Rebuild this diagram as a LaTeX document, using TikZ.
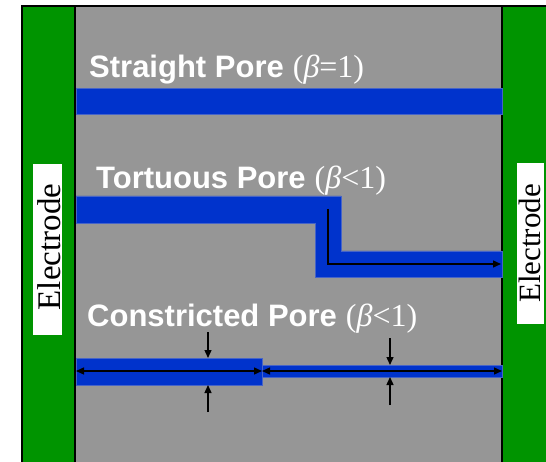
\documentclass[tikz,border=0pt]{standalone}
\usepackage{fontspec}
\setmainfont{Liberation Serif}
\newfontfamily\labelsans{Liberation Sans}
\usetikzlibrary{arrows.meta}
\definecolor{porebg}{RGB}{150,150,150}
\definecolor{elgreen}{RGB}{0,148,0}
\definecolor{poreblue}{RGB}{0,51,204}
\definecolor{poreedge}{RGB}{70,100,200}
\newcommand{\poretitle}[2]{{\fontsize{31}{31}\selectfont\labelsans\bfseries #1}\hspace{9pt}{\fontsize{32}{32}\selectfont #2}}
\begin{document}
\begin{tikzpicture}[x=1pt,y=-1pt,
  pore/.style={fill=poreblue, draw=poreedge, line width=0.6pt},
  frameline/.style={draw=black, line width=2pt},
  tip/.style={line width=1.4pt, -{Triangle[length=8pt,width=7pt]}},
  twotip/.style={line width=1.4pt, {Triangle[length=8pt,width=7pt]}-{Triangle[length=8pt,width=7pt]}},
  title/.style={anchor=base west, text=white, inner sep=0pt},
  eltext/.style={anchor=base, rotate=90, inner sep=0pt, text=black},
  elbox/.style={fill=white}]
\useasboundingbox (0,0) rectangle (546,462);
\fill[white] (0,0) rectangle (546,462);

% electrodes and the porous body between them
\fill[elgreen] (22,6) rectangle (546,462);
\fill[porebg] (75,6) rectangle (502,462);
\draw[frameline] (22,462) -- (22,6) -- (546,6);
\draw[black, line width=1.5pt] (75,6) -- (75,462);
\draw[frameline] (502,6) -- (502,462);

% electrode labels
\fill[elbox] (33,164) rectangle (62,335);
\node[eltext, font=\fontsize{33}{33}\selectfont] (elLeft) at (60,247) {Electrode};
\fill[elbox] (517,163) rectangle (544,324);
\node[eltext, font=\fontsize{31}{31}\selectfont] (elRight) at (540,243.5) {Electrode};

% straight pore
\node[title] (tStraight) at (89,78) {\poretitle{Straight Pore}{(\textit{β}=1)}};
\path[pore] (76,88) rectangle (502,114);

% tortuous pore
\node[title] (tTortuous) at (96,189) {\poretitle{Tortuous Pore}{(\textit{β}<1)}};
\path[pore] (76,196) -- (341,196) -- (341,251) -- (502,251) -- (502,277)
  -- (315,277) -- (315,223) -- (76,223) -- cycle;
\coordinate (tStart) at (328,209);
\coordinate (tEnd) at (501,264);
\draw[tip] (tStart) |- (tEnd);

% constricted pore
\node[title] (tConstricted) at (87,326) {\poretitle{Constricted Pore}{(\textit{β}<1)}};
\path[pore] (76,358) rectangle (262,385);
\path[pore] (262,365) rectangle (502,377);
\coordinate (cLeft) at (76,371);
\coordinate (cMid) at (262,371);
\coordinate (cRight) at (502,371);
\draw[twotip] (cLeft) -- (cMid);
\draw[twotip] (cMid) -- (cRight);

% width markers
\coordinate (wA1) at (208,332); \coordinate (wA2) at (208,358);
\coordinate (wA3) at (208,412); \coordinate (wA4) at (208,385);
\coordinate (wB1) at (390,338); \coordinate (wB2) at (390,365);
\coordinate (wB3) at (390,405); \coordinate (wB4) at (390,377);
\draw[tip] (wA1) -- (wA2);
\draw[tip] (wA3) -- (wA4);
\draw[tip] (wB1) -- (wB2);
\draw[tip] (wB3) -- (wB4);
\end{tikzpicture}
\end{document}
